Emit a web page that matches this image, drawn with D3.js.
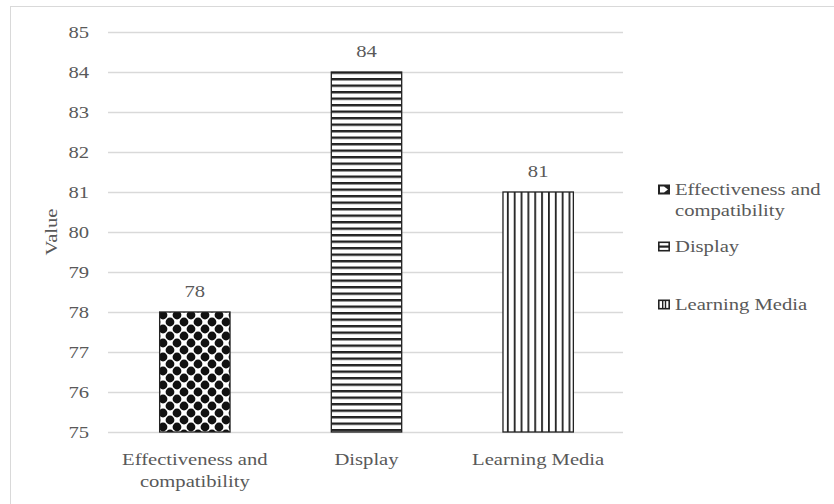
<!DOCTYPE html>
<html>
<head>
<meta charset="utf-8">
<script src="https://cdn.jsdelivr.net/npm/d3@7"></script>
<style>
  html, body { margin: 0; padding: 0; background: #fff; }
  svg { display: block; }
</style>
</head>
<body>
<svg id="chart" width="834" height="504"></svg>
<script>
// Chart data
const categories = ["Effectiveness and compatibility", "Display", "Learning Media"];
const categoryLines = [["Effectiveness and", "compatibility"], ["Display"], ["Learning Media"]];
const values = [78, 84, 81];
const yTicks = [75, 76, 77, 78, 79, 80, 81, 82, 83, 84, 85];
const legendLines = [["Effectiveness and", "compatibility"], ["Display"], ["Learning Media"]];
const patternIds = ["pat-dots", "pat-hstripe", "pat-vstripe"];

const FONT = "'Liberation Serif', Tinos, 'Times New Roman', Times, 'DejaVu Serif', serif";
const TEXT = "#595959";
const FS = 16.5;     // font size
const SX = 1.25;     // horizontal widening of the type

const svg = d3.select("#chart").attr("font-family", FONT);
const margin = { left: 108, right: 211, top: 32, bottom: 72 };
const width = 834, height = 504;

// Outer frame
svg.append("rect")
  .attr("x", 10.5).attr("y", 6.5)
  .attr("width", 840).attr("height", 510)
  .attr("fill", "none").attr("stroke", "#d9d9d9").attr("stroke-width", 1);

// Fill patterns
const defs = svg.append("defs");
const pDots = defs.append("pattern").attr("id", "pat-dots")
  .attr("patternUnits", "userSpaceOnUse").attr("width", 14).attr("height", 14)
  .attr("x", 2).attr("y", 0);
pDots.append("rect").attr("width", 14).attr("height", 14).attr("fill", "#fff");
[[0,0],[14,0],[0,14],[14,14],[7,7]].forEach(([cx, cy]) => {
  pDots.append("circle").attr("cx", cx).attr("cy", cy).attr("r", 4.4).attr("fill", "#111");
});

const pH = defs.append("pattern").attr("id", "pat-hstripe")
  .attr("patternUnits", "userSpaceOnUse").attr("width", 8).attr("height", 6.5);
pH.append("rect").attr("width", 8).attr("height", 6.5).attr("fill", "#fff");
pH.append("rect").attr("y", 0).attr("width", 8).attr("height", 2.4).attr("fill", "#222");

const pV = defs.append("pattern").attr("id", "pat-vstripe")
  .attr("patternUnits", "userSpaceOnUse").attr("width", 6.85).attr("height", 8);
pV.append("rect").attr("width", 6.85).attr("height", 8).attr("fill", "#fff");
pV.append("rect").attr("x", 0).attr("width", 1.8).attr("height", 8).attr("fill", "#222");

// Scales
const x = d3.scaleBand()
  .domain(categories)
  .range([margin.left + 1, width - margin.right + 1])
  .paddingInner(0.59).paddingOuter(0.295);
const y = d3.scaleLinear()
  .domain([75, 85])
  .range([height - margin.bottom, margin.top]);

// Text placed at (tx, ty) and widened horizontally in its own frame
function label(parent, tx, ty, lines, opts = {}) {
  const t = parent.append("text")
    .attr("transform", `translate(${tx},${ty})${opts.rotate ? ` rotate(${opts.rotate})` : ""} scale(${SX},1)`)
    .attr("text-anchor", opts.anchor || "middle")
    .attr("font-size", FS).attr("fill", TEXT);
  lines.forEach((line, j) => {
    t.append("tspan").attr("x", 0).attr("dy", j === 0 ? 0 : (opts.lineGap || 23)).text(line);
  });
  return t;
}

// Gridlines
svg.append("g").selectAll("line").data(yTicks).join("line")
  .attr("x1", margin.left).attr("x2", width - margin.right)
  .attr("y1", d => Math.round(y(d)) + 0.5).attr("y2", d => Math.round(y(d)) + 0.5)
  .attr("stroke", "#d9d9d9").attr("stroke-width", 1.3);

// Y axis labels
const yAxis = d3.axisLeft(y).tickValues(yTicks).tickSize(0).tickPadding(19);
const gy = svg.append("g").attr("transform", `translate(${margin.left},0)`).call(yAxis)
  .attr("font-family", FONT).attr("font-size", FS);
gy.select(".domain").remove();
gy.selectAll("text")
  .attr("fill", TEXT)
  .attr("x", -19 / SX)
  .attr("transform", `scale(${SX},1)`);

// Y axis title
label(svg, 57, (y(75) + y(85)) / 2, ["Value"], { rotate: -90 });

// Bars
svg.append("g").selectAll("rect").data(categories).join("rect")
  .attr("x", d => x(d))
  .attr("y", (d, i) => y(values[i]))
  .attr("width", x.bandwidth())
  .attr("height", (d, i) => y(75) - y(values[i]))
  .attr("fill", (d, i) => `url(#${patternIds[i]})`)
  .attr("stroke", "#222").attr("stroke-width", 1.3);

// Value labels
const vl = svg.append("g");
categories.forEach((c, i) => {
  label(vl, x(c) + x.bandwidth() / 2, y(values[i]) - 15.5, [String(values[i])]);
});

// X category labels
const xl = svg.append("g");
categories.forEach((c, i) => {
  label(xl, x(c) + x.bandwidth() / 2, 464.5, categoryLines[i], { lineGap: 23 });
});

// Legend
const legendY = [195, 252, 310];
const legend = svg.append("g");
legendLines.forEach((lines, i) => {
  const b = legendY[i];
  const ix = 658, iy = b - 10.5, iw = 12, ih = 10;
  if (i === 0) {
    legend.append("rect").attr("x", ix).attr("y", iy).attr("width", iw).attr("height", ih).attr("fill", "#222");
    legend.append("path")
      .attr("d", `M${ix + 2},${iy + 2} L${ix + 6},${iy + 2} L${ix + 10},${iy + 5} L${ix + 6},${iy + 8} L${ix + 2},${iy + 8} Z`)
      .attr("fill", "#fff");
  } else {
    legend.append("rect").attr("x", ix + 0.8).attr("y", iy + 0.8).attr("width", iw - 1.6).attr("height", ih - 1.6)
      .attr("fill", "#fff").attr("stroke", "#222").attr("stroke-width", 1.6);
    if (i === 1) {
      legend.append("rect").attr("x", ix + 1).attr("y", iy + 4).attr("width", iw - 2).attr("height", 2.2).attr("fill", "#222");
    } else {
      legend.append("rect").attr("x", ix + 4).attr("y", iy + 1).attr("width", 1.4).attr("height", ih - 2).attr("fill", "#222");
      legend.append("rect").attr("x", ix + 6.8).attr("y", iy + 1).attr("width", 1.4).attr("height", ih - 2).attr("fill", "#222");
    }
  }
  label(legend, 675, b, lines, { anchor: "start", lineGap: 21 });
});
</script>
</body>
</html>
